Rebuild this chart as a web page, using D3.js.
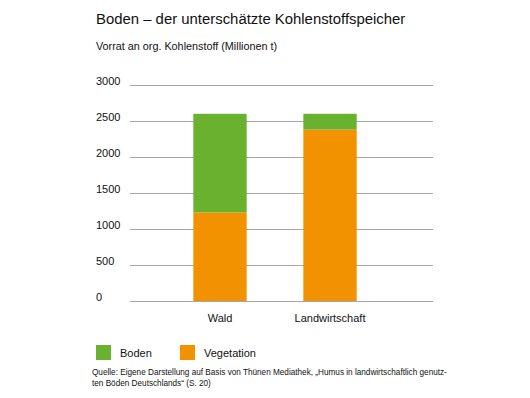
<!DOCTYPE html>
<html>
<head>
<meta charset="utf-8">
<script src="https://cdn.jsdelivr.net/npm/d3@7"></script>
<style>
  body { margin: 0; background: #fff; }
  text { font-family: "Liberation Sans", Arial, sans-serif; fill: #111; }
</style>
</head>
<body>
<div class="viewbox"></div>
<script>
// data (Millionen t)
const categories = ["Wald", "Landwirtschaft"];
const vegetation = [1230, 2380];
const boden = [1370, 220];
const tickValues = [0, 500, 1000, 1500, 2000, 2500, 3000];
const seriesNames = ["Boden", "Vegetation"];
const colors = { Boden: "#6ab12f", Vegetation: "#f39200" };

const svg_width = 530;
const svg_height = 398;

let svg = d3.select(".viewbox")
  .append("svg")
  .attr("width", svg_width)
  .attr("height", svg_height);

// plot area
const plotLeft = 130, plotRight = 433, plotTop = 85, plotBottom = 301;

let y = d3.scaleLinear().domain([0, 3000]).range([plotBottom, plotTop]);
let x = d3.scaleBand().domain(categories).range([138.3, 411.7]).paddingInner(0.515).paddingOuter(0.5);

// titles
svg.append("text").attr("x", 96).attr("y", 24)
  .style("font-size", "14.9px").text("Boden – der unterschätzte Kohlenstoffspeicher");
svg.append("text").attr("x", 96).attr("y", 50)
  .style("font-size", "10.8px").text("Vorrat an org. Kohlenstoff (Millionen t)");

// grid lines + tick labels
let grid = svg.append("g");
grid.selectAll("line").data(tickValues).enter().append("line")
  .attr("x1", plotLeft).attr("x2", plotRight)
  .attr("y1", d => y(d) + 0.5).attr("y2", d => y(d) + 0.5)
  .attr("stroke", "#a6a6a6").attr("stroke-width", 1);
grid.selectAll("text").data(tickValues).enter().append("text")
  .attr("x", 96).attr("y", d => y(d) - 0.5)
  .style("font-size", "11px").text(d => d);

// stacked bars
let rows = categories.map((c, i) => ({ cat: c, Vegetation: vegetation[i], Boden: boden[i] }));
let stack = d3.stack().keys(["Vegetation", "Boden"])(rows);

svg.append("g").selectAll("g").data(stack).enter().append("g")
  .attr("fill", d => colors[d.key])
  .selectAll("rect").data(d => d).enter().append("rect")
  .attr("x", d => x(d.data.cat))
  .attr("width", x.bandwidth())
  .attr("y", d => y(d[1]))
  .attr("height", d => y(d[0]) - y(d[1]));

// category labels
svg.append("g").selectAll("text").data(categories).enter().append("text")
  .attr("x", d => x(d) + x.bandwidth() / 2).attr("y", 322)
  .attr("text-anchor", "middle").style("font-size", "11px").text(d => d);

// legend
let legend = svg.append("g").selectAll("g").data(seriesNames).enter().append("g")
  .attr("transform", (d, i) => `translate(${96 + i * 84},345)`);
legend.append("rect").attr("width", 15).attr("height", 15).attr("fill", d => colors[d]);
legend.append("text").attr("x", 24).attr("y", 11.5).style("font-size", "11px").text(d => d);

// source
svg.append("text").attr("x", 92).attr("y", 375).style("font-size", "8.2px")
  .text("Quelle: Eigene Darstellung auf Basis von Thünen Mediathek, „Humus in landwirtschaftlich genutz-");
svg.append("text").attr("x", 92).attr("y", 385.5).style("font-size", "8.2px")
  .text("ten Böden Deutschlands“ (S. 20)");
</script>
</body>
</html>
